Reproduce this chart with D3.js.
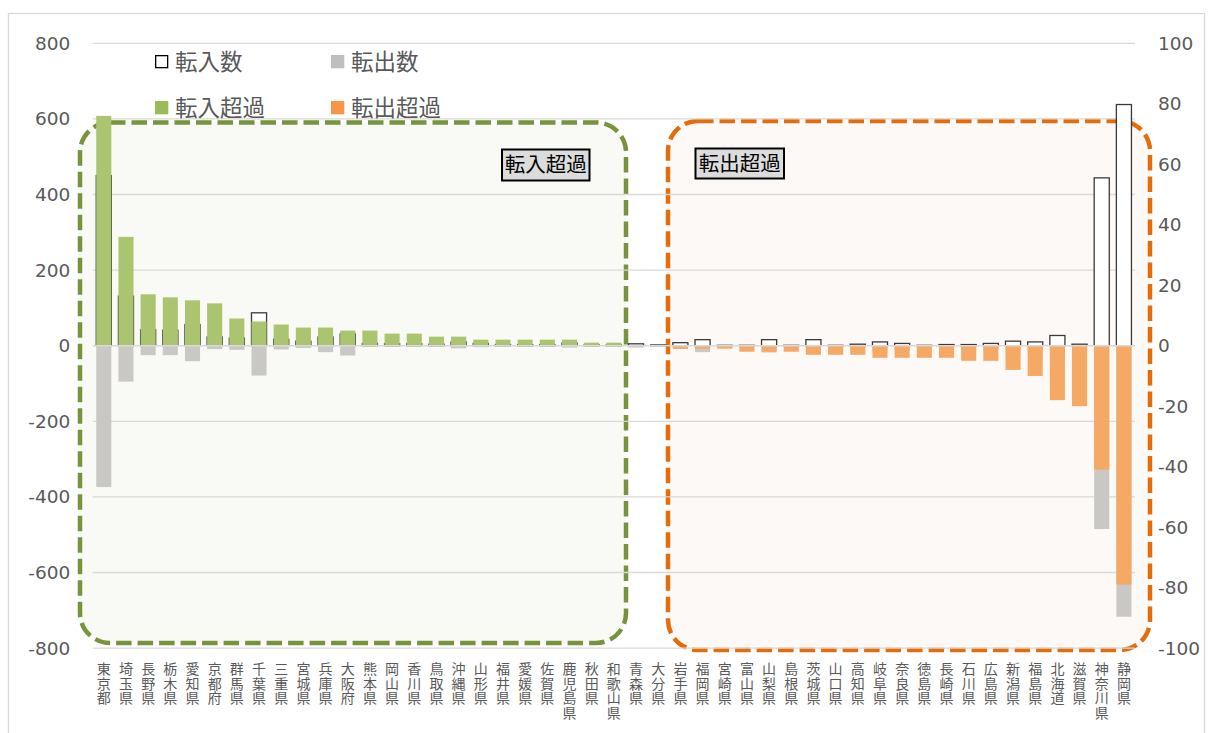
<!DOCTYPE html>
<html lang="ja">
<head>
<meta charset="utf-8">
<script src="https://cdn.jsdelivr.net/npm/d3@7/dist/d3.min.js"></script>
<style>
  html, body { margin: 0; padding: 0; background: #ffffff; }
  svg { display: block; }
</style>
</head>
<body>
<div id="chart"></div>
<script>
// 都道府県別 転入数・転出数（左軸）と転入超過・転出超過（右軸）
const prefectures = [
  "東京都","埼玉県","長野県","栃木県","愛知県","京都府","群馬県","千葉県","三重県","宮城県",
  "兵庫県","大阪府","熊本県","岡山県","香川県","鳥取県","沖縄県","山形県","福井県","愛媛県",
  "佐賀県","鹿児島県","秋田県","和歌山県",
  "青森県","大分県","岩手県","福岡県","宮崎県","富山県","山梨県","島根県","茨城県","山口県",
  "高知県","岐阜県","奈良県","徳島県","長崎県","石川県","広島県","新潟県","福島県","北海道",
  "滋賀県","神奈川県","静岡県"
];
const inflow = [
  450,131,42,41,56,23,20,87,17,12,
  23,31,6,5,5,4,10,6,3,3,
  3,7,2,2,
  5,2,8,16,1,1,16,1,16,1,
  4,10,6,1,3,3,6,12,10,27,
  4,444,638
];
const outflow = [
  374,95,25,25,41,9,11,79,10,6,
  17,26,1,1,1,1,7,4,1,1,
  1,5,1,1,
  5,2,9,17,2,3,18,3,19,4,
  7,14,10,5,7,8,11,20,20,45,
  24,485,717
];
const netFlow = [
  76,36,17,16,15,14,9,8,7,6,
  6,5,5,4,4,3,3,2,2,2,
  2,2,1,1,
  0,0,-1,-1,-1,-2,-2,-2,-3,-3,
  -3,-4,-4,-4,-4,-5,-5,-8,-10,-18,
  -20,-41,-79
];
const leftTicks = [800,600,400,200,0,-200,-400,-600,-800];
const rightTicks = [100,80,60,40,20,0,-20,-40,-60,-80,-100];
const legendLabels = ["転入数","転出数","転入超過","転出超過"];
const groupLabels = ["転入超過","転出超過"];

const W = 1208, H = 733;
const plotLeft = 92.7, plotRight = 1135, plotTop = 43.3, plotBottom = 648.1;

const colors = {
  inflowStroke: "#3a3a3a",
  outflow: "#c9c8c5",
  gain: "#abc470",
  loss: "#f6a865",
  grid: "#d9d9d9",
  text: "#595959",
  gainLine: "#77933c",
  lossLine: "#e46c0a",
  gainFill: "#f9faf5",
  lossFill: "#fdf9f6"
};

const svg = d3.select("#chart").append("svg")
  .attr("width", W).attr("height", H)
  .attr("viewBox", `0 0 ${W} ${H}`);

// chart frame
svg.append("rect")
  .attr("x", 8.5).attr("y", 13.5)
  .attr("width", 1196).attr("height", H + 10)
  .attr("fill", "#ffffff")
  .attr("stroke", "#d9d9d9").attr("stroke-width", 1.3);

const x = d3.scaleBand()
  .domain(prefectures)
  .range([plotLeft, plotRight])
  .paddingInner(0.32)
  .paddingOuter(0.16);

const yL = d3.scaleLinear().domain([-800, 800]).range([plotBottom, plotTop]);
const yR = d3.scaleLinear().domain([-100, 100]).range([plotBottom, plotTop]);

// grouping panels (rounded dashed frames behind the plot)
const panels = [
  { x0: 80, y0: 122.5, x1: 626, y1: 643, fill: colors.gainFill, stroke: colors.gainLine },
  { x0: 668, y0: 121, x1: 1150, y1: 650, fill: colors.lossFill, stroke: colors.lossLine }
];
svg.append("g").selectAll("rect").data(panels).join("rect")
  .attr("x", d => d.x0).attr("y", d => d.y0)
  .attr("width", d => d.x1 - d.x0).attr("height", d => d.y1 - d.y0)
  .attr("rx", 30).attr("ry", 30)
  .attr("fill", d => d.fill)
  .attr("stroke", d => d.stroke)
  .attr("stroke-width", 4.5)
  .attr("stroke-dasharray", "15.5,6");

// gridlines
svg.append("g").selectAll("line").data(leftTicks.filter(t => t !== 0)).join("line")
  .attr("x1", plotLeft).attr("x2", plotRight)
  .attr("y1", d => yL(d)).attr("y2", d => yL(d))
  .attr("stroke", colors.grid).attr("stroke-width", 1.3);

// plain hyphen-minus for negative tick labels
const plainNumber = d => String(d);

// left axis
const axisL = svg.append("g")
  .attr("transform", `translate(${plotLeft},0)`)
  .call(d3.axisLeft(yL).tickValues(leftTicks).tickFormat(plainNumber).tickSize(0).tickPadding(22.5));
axisL.select(".domain").remove();
axisL.selectAll("text")
  .attr("font-family", "'DejaVu Sans', sans-serif")
  .attr("font-size", 18.5)
  .attr("fill", colors.text);

// right axis
const axisR = svg.append("g")
  .attr("transform", `translate(${plotRight},0)`)
  .call(d3.axisRight(yR).tickValues(rightTicks).tickFormat(plainNumber).tickSize(0).tickPadding(23));
axisR.select(".domain").remove();
axisR.selectAll("text")
  .attr("font-family", "'DejaVu Sans', sans-serif")
  .attr("font-size", 18.5)
  .attr("fill", colors.text);

// 転入数 (outlined, left axis)
svg.append("g").selectAll("rect").data(prefectures).join("rect")
  .attr("x", d => x(d))
  .attr("width", x.bandwidth())
  .attr("y", (d, i) => yL(inflow[i]))
  .attr("height", (d, i) => yL(0) - yL(inflow[i]))
  .attr("fill", "#ffffff")
  .attr("stroke", colors.inflowStroke)
  .attr("stroke-width", 1.3);

// 転出数 (gray, left axis, drawn downward)
svg.append("g").selectAll("rect").data(prefectures).join("rect")
  .attr("x", d => x(d))
  .attr("width", x.bandwidth())
  .attr("y", yL(0))
  .attr("height", (d, i) => yL(-outflow[i]) - yL(0))
  .attr("fill", colors.outflow);

// 転入超過 / 転出超過 (right axis)
svg.append("g").selectAll("rect").data(prefectures).join("rect")
  .attr("x", d => x(d))
  .attr("width", x.bandwidth())
  .attr("y", (d, i) => yR(Math.max(0, netFlow[i])))
  .attr("height", (d, i) => Math.abs(yR(netFlow[i]) - yR(0)))
  .attr("fill", (d, i) => netFlow[i] >= 0 ? colors.gain : colors.loss);

// zero line
svg.append("line")
  .attr("x1", plotLeft).attr("x2", plotRight)
  .attr("y1", yL(0)).attr("y2", yL(0))
  .attr("stroke", colors.grid).attr("stroke-width", 1.6);

// category labels, one character per line
const xLabels = svg.append("g")
  .attr("font-family", "'Noto Sans CJK JP', sans-serif")
  .attr("font-size", 14)
  .attr("fill", colors.text);
xLabels.selectAll("text").data(prefectures).join("text")
  .attr("text-anchor", "middle")
  .each(function(d) {
    const cx = x(d) + x.bandwidth() / 2;
    d3.select(this).selectAll("tspan").data(Array.from(d)).join("tspan")
      .attr("x", cx)
      .attr("y", (c, k) => 674 + k * 14.6)
      .text(c => c);
  });

// legend
const legendPos = [
  { x: 155, y: 55, kind: "inflow" },
  { x: 331, y: 55, kind: "outflow" },
  { x: 155, y: 101, kind: "gain" },
  { x: 331, y: 101, kind: "loss" }
];
const legend = svg.append("g");
legendPos.forEach((p, i) => {
  const sw = legend.append("rect")
    .attr("x", p.kind === "inflow" ? p.x + 0.65 : p.x)
    .attr("y", p.kind === "inflow" ? p.y + 0.65 : p.y)
    .attr("width", p.kind === "inflow" ? 12 : 13.3)
    .attr("height", p.kind === "inflow" ? 12 : 13.3);
  if (p.kind === "inflow") sw.attr("fill", "#ffffff").attr("stroke", "#000").attr("stroke-width", 1.3);
  else sw.attr("fill", { outflow: "#bfbfbf", gain: "#9bbb59", loss: "#f79646" }[p.kind]);
  legend.append("text")
    .attr("x", p.x + 20)
    .attr("y", p.y + 14.5)
    .attr("font-family", "'Noto Sans CJK JP', sans-serif")
    .attr("font-size", 22.5)
    .attr("fill", colors.text)
    .text(legendLabels[i]);
});

// group captions
const captions = [
  { x: 502, y: 149.5, w: 87.5, h: 31, text: groupLabels[0] },
  { x: 695.5, y: 148.5, w: 88.5, h: 30, text: groupLabels[1] }
];
const cap = svg.append("g").selectAll("g").data(captions).join("g");
cap.append("rect")
  .attr("x", d => d.x).attr("y", d => d.y)
  .attr("width", d => d.w).attr("height", d => d.h)
  .attr("fill", "#dcdcdc")
  .attr("stroke", "#000").attr("stroke-width", 2);
cap.append("text")
  .attr("x", d => d.x + d.w / 2)
  .attr("y", d => d.y + d.h / 2 + 7)
  .attr("text-anchor", "middle")
  .attr("font-family", "'Noto Sans CJK JP', sans-serif")
  .attr("font-size", 20.5)
  .attr("fill", "#000")
  .text(d => d.text);
</script>
</body>
</html>
